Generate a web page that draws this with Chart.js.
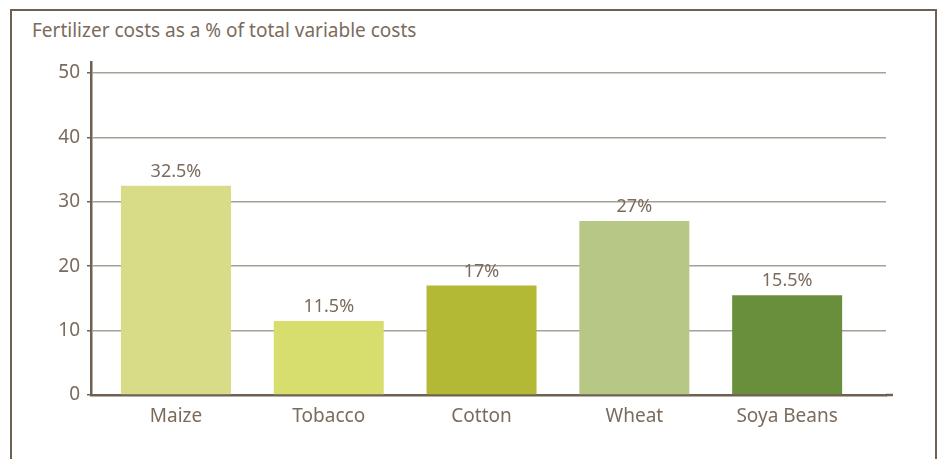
<!DOCTYPE html>
<html>
<head>
<meta charset="utf-8">
<script src="https://cdn.jsdelivr.net/npm/chart.js@4"></script>
<style>
  html, body { margin: 0; padding: 0; background: #fff; }
  #wrap { position: relative; width: 941px; height: 459px; overflow: hidden; }
  #frame {
    position: absolute; left: 10px; top: 9px; width: 923px; height: 480px;
    border: 2px solid #6e6053; border-bottom: none;
  }
  #title {
    position: absolute; left: 32px; top: 17px;
    font-family: "Noto Sans", sans-serif; font-size: 19px; color: #7b6b5c;
  }
  canvas { position: absolute; left: 0; top: 0; }
</style>
</head>
<body>
<div id="wrap">
  <div id="frame"></div>
  <div id="title">Fertilizer costs as a % of total variable costs</div>
  <canvas id="chart" width="941" height="459"></canvas>
</div>
<script>
// ---------- data ----------
const CATEGORIES = ['Maize', 'Tobacco', 'Cotton', 'Wheat', 'Soya Beans'];
const VALUES = [32.5, 11.5, 17, 27, 15.5];
const COLORS = ['#d9dc86', '#d8de6e', '#b4b935', '#b7c886', '#6a8f3c'];
const Y_TICKS = [0, 10, 20, 30, 40, 50];

const TEXT = '#7b6b5c';
const AXIS = '#6e6053';
const GRID = '#a8a097';
const FONT = '"Noto Sans", sans-serif';

// value labels above bars
const barLabels = {
  id: 'barLabels',
  afterDatasetsDraw(chart) {
    const ctx = chart.ctx;
    const meta = chart.getDatasetMeta(0);
    ctx.save();
    ctx.font = '18px ' + FONT;
    ctx.fillStyle = TEXT;
    ctx.textAlign = 'center';
    ctx.textBaseline = 'bottom';
    meta.data.forEach((bar, i) => {
      ctx.fillText(VALUES[i] + '%', bar.x, bar.y - 5);
    });
    ctx.restore();
  }
};

// x axis line runs a little past the grid lines
const axisTail = {
  id: 'axisTail',
  afterDraw(chart) {
    const { ctx, chartArea } = chart;
    ctx.save();
    ctx.strokeStyle = AXIS;
    ctx.lineWidth = 2.5;
    ctx.beginPath();
    ctx.moveTo(chartArea.right, chartArea.bottom);
    ctx.lineTo(chartArea.right + 7, chartArea.bottom);
    ctx.stroke();
    ctx.restore();
  }
};

new Chart(document.getElementById('chart'), {
  type: 'bar',
  data: {
    datasets: [{
      data: VALUES.map((v, i) => ({ x: i, y: v })),
      backgroundColor: COLORS,
      borderWidth: 0,
      categoryPercentage: 0.8,
      barPercentage: 0.9,
    }],
  },
  options: {
    responsive: false,
    animation: false,
    layout: { padding: { top: 62, right: 55, left: 0, bottom: 0 } },
    plugins: { legend: { display: false }, tooltip: { enabled: false } },
    scales: {
      x: {
        type: 'linear',
        offset: false,
        min: -0.556,
        max: 4.647,
        grid: { display: false, offset: false },
        border: { display: true, color: AXIS, width: 2.5 },
        afterBuildTicks: (s) => { s.ticks = CATEGORIES.map((_, i) => ({ value: i })); },
        afterFit: (s) => { s.height = 64; },
        ticks: {
          autoSkip: false,
          maxRotation: 0,
          padding: 2,
          color: TEXT,
          font: { family: FONT, size: 19 },
          callback: (v) => CATEGORIES[v] ?? '',
        },
      },
      y: {
        min: 0,
        max: 51.7,
        afterBuildTicks: (s) => { s.ticks = Y_TICKS.map(v => ({ value: v })); },
        afterFit: (s) => { s.width = 91; },
        grid: { color: GRID, lineWidth: 1.5, tickLength: 4, tickColor: AXIS, tickWidth: 1.5 },
        border: { display: true, color: AXIS, width: 2.5 },
        ticks: {
          padding: 7,
          color: TEXT,
          font: { family: FONT, size: 19 },
        },
      },
    },
  },
  plugins: [barLabels, axisTail],
});
</script>
</body>
</html>
